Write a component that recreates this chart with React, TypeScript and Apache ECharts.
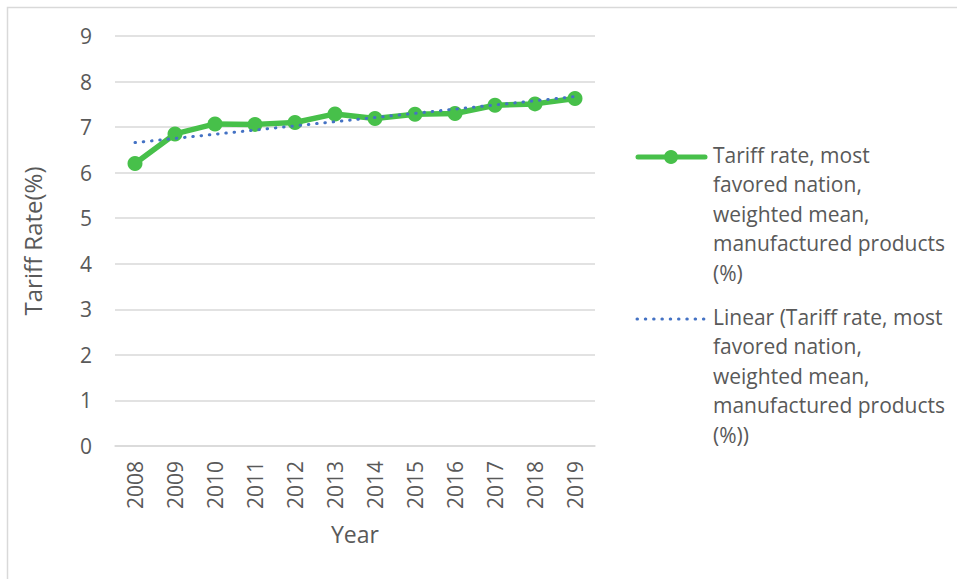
import React, { useEffect, useRef } from "react";
import * as echarts from "echarts";

// Manufactured-goods MFN tariff rate (weighted mean, %) by year
const years = ["2008", "2009", "2010", "2011", "2012", "2013", "2014", "2015", "2016", "2017", "2018", "2019"];
const tariffRates = [6.2, 6.85, 7.07, 7.06, 7.1, 7.29, 7.19, 7.28, 7.3, 7.48, 7.51, 7.63];
// Linear trendline values at the first and last year
const trendEnds = [6.66, 7.67];

const seriesName = "Tariff rate, most favored nation, weighted mean, manufactured products (%)";
const trendName = "Linear (Tariff rate, most favored nation, weighted mean, manufactured products (%))";
const seriesLegendLines = ["Tariff rate, most", "favored nation,", "weighted mean,", "manufactured products", "(%)"];
const trendLegendLines = ["Linear (Tariff rate, most", "favored nation,", "weighted mean,", "manufactured products", "(%))"];

const GREEN = "#47C04A";
const BLUE = "#4472C4";
const TEXT = "#595959";
const GRID = "#D9D9D9";
const FONT = "'Open Sans', sans-serif";

export default function App() {
  const ref = useRef<HTMLDivElement>(null);

  useEffect(() => {
    if (!ref.current) return;
    const chart = echarts.init(ref.current, undefined, { renderer: "svg" });
    chart.setOption({
      animation: false,
      backgroundColor: "#ffffff",
      textStyle: { fontFamily: FONT },
      grid: { left: 115, right: 362, top: 36, bottom: 133 },
      xAxis: {
        type: "category",
        data: years,
        boundaryGap: true,
        name: "Year",
        nameLocation: "middle",
        nameGap: 76,
        nameTextStyle: { color: TEXT, fontSize: 23, fontFamily: FONT },
        axisLine: { show: true, lineStyle: { color: GRID, width: 1.5 } },
        axisTick: { show: false },
        axisLabel: { rotate: 90, margin: 15, color: TEXT, fontSize: 21, fontFamily: FONT },
      },
      yAxis: {
        type: "value",
        min: 0,
        max: 9,
        interval: 1,
        name: "Tariff Rate(%)",
        nameLocation: "middle",
        nameGap: 71,
        nameTextStyle: { color: TEXT, fontSize: 24, fontFamily: FONT },
        axisLine: { show: false },
        axisTick: { show: false },
        axisLabel: { margin: 23, color: TEXT, fontSize: 21, fontFamily: FONT },
        splitLine: { lineStyle: { color: GRID, width: 1.5 } },
      },
      series: [
        {
          name: seriesName,
          type: "line",
          data: tariffRates,
          symbol: "circle",
          symbolSize: 15,
          itemStyle: { color: GREEN },
          lineStyle: { color: GREEN, width: 5.5, cap: "round", join: "round" },
          z: 2,
        },
        {
          name: trendName,
          type: "line",
          data: [
            [years[0], trendEnds[0]],
            [years[years.length - 1], trendEnds[1]],
          ],
          symbol: "none",
          lineStyle: { color: BLUE, width: 3, type: [0.5, 7.8], cap: "round" },
          z: 3,
        },
      ],
      graphic: [
        // chart frame
        {
          type: "rect",
          shape: { x: 7.5, y: 7.5, width: 2000, height: 2000 },
          style: { fill: "none", stroke: GRID, lineWidth: 1.5 },
          silent: true,
        },
        // legend: data series
        {
          type: "line",
          shape: { x1: 638, y1: 157, x2: 705, y2: 157 },
          style: { stroke: GREEN, lineWidth: 5, lineCap: "round" },
        },
        {
          type: "circle",
          shape: { cx: 671, cy: 157, r: 7 },
          style: { fill: GREEN },
        },
        {
          type: "text",
          x: 713,
          y: 140,
          style: {
            text: seriesLegendLines.join("\n"),
            fill: TEXT,
            font: `21px ${FONT}`,
            lineHeight: 29.5,
            textVerticalAlign: "top",
          },
        },
        // legend: trendline
        {
          type: "line",
          shape: { x1: 637, y1: 319, x2: 706, y2: 319 },
          style: { stroke: BLUE, lineWidth: 3, lineCap: "round", lineDash: [0.5, 7.8] },
        },
        {
          type: "text",
          x: 713,
          y: 302,
          style: {
            text: trendLegendLines.join("\n"),
            fill: TEXT,
            font: `21px ${FONT}`,
            lineHeight: 29.5,
            textVerticalAlign: "top",
          },
        },
      ],
    });
    return () => chart.dispose();
  }, []);

  return (
    <div
      ref={ref}
      style={{ position: "fixed", left: 0, top: 0, width: 957, height: 579, background: "#fff" }}
    />
  );
}
